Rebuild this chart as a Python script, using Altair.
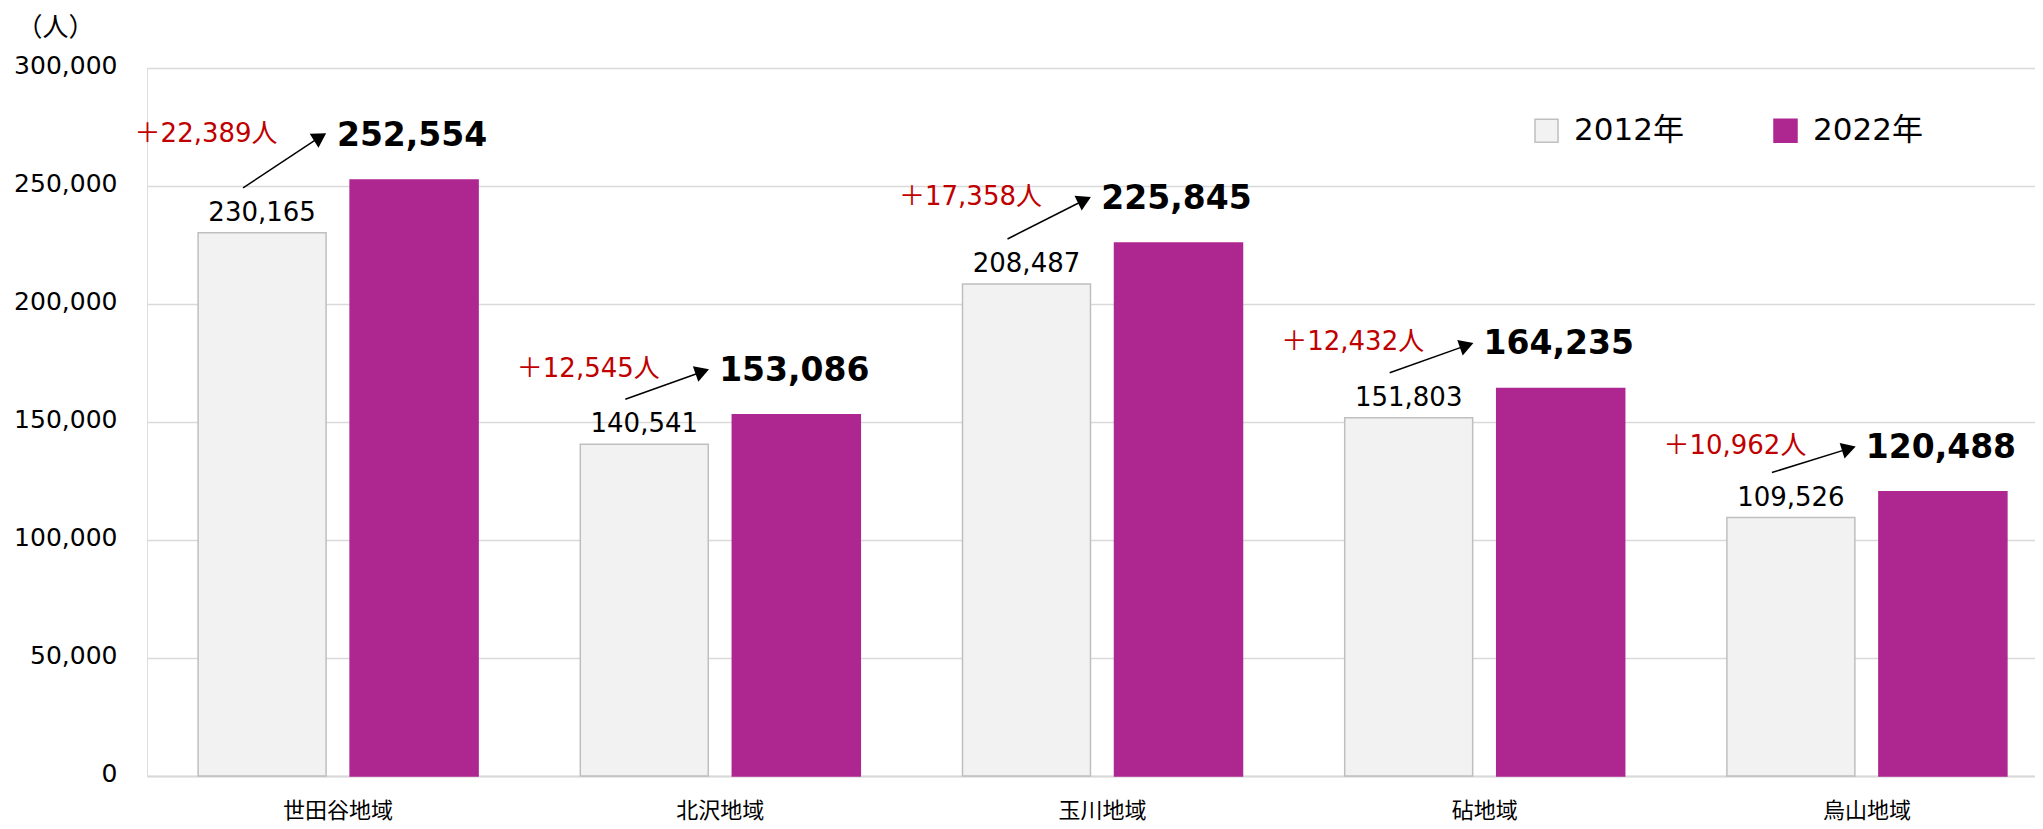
import altair as alt
import pandas as pd
import numpy as np

regions = ["世田谷地域", "北沢地域", "玉川地域", "砧地域", "烏山地域"]
pop_2012 = [230165, 140541, 208487, 151803, 109526]
pop_2022 = [252554, 153086, 225845, 164235, 120488]
increase = [22389, 12545, 17358, 12432, 10962]
years = ["2012年", "2022年"]
y_ticks = [0, 50000, 100000, 150000, 200000, 250000, 300000]

FONT = "DejaVu Sans, Noto Sans CJK JP"
PURPLE = "#ae2790"
LIGHT = "#f2f2f2"
EDGE = "#bfbfbf"
GRID = "#d9d9d9"

W, H = 1888, 708
XRANGE = 1911
PX_PER_UNIT = H / 300000
ARROW_START, ARROW_END = -95, -11

long_df = pd.DataFrame({
    "region": regions * 2,
    "year": [years[0]] * 5 + [years[1]] * 5,
    "pop": pop_2012 + pop_2022,
})
wide_df = pd.DataFrame({
    "region": regions,
    "v2012": pop_2012,
    "v2022": pop_2022,
    "inc": [f"＋{v:,}人" for v in increase],
})
dy_px = (wide_df["v2022"] - wide_df["v2012"]) * PX_PER_UNIT
wide_df["angle"] = 360 - np.degrees(np.arctan2(dy_px, ARROW_END - ARROW_START))

x_enc = alt.X(
    "region:N", sort=regions, title=None,
    scale=alt.Scale(range=[0, XRANGE], paddingInner=0.2674, paddingOuter=0.1337),
    axis=alt.Axis(labelAngle=0, labelFont=FONT, labelFontSize=22, labelColor="#000000",
                  labelPadding=24, ticks=False, domainColor=GRID, domainWidth=2,
                  labelBaseline="top"),
)
y_scale = alt.Scale(domain=[0, 300000], nice=False)

legend_def = alt.Legend(
    title=None, orient="none", legendX=1384, legendY=47, direction="horizontal",
    symbolType="square", symbolSize=529, symbolStrokeWidth=1.5,
    labelFont=FONT, labelFontSize=31, labelColor="#000000", labelOffset=12,
    columnPadding=86, padding=0, symbolOpacity=1,
)

bars = alt.Chart(long_df).mark_bar(strokeWidth=1.5).encode(
    x=x_enc,
    xOffset=alt.XOffset("year:N", sort=years,
                        scale=alt.Scale(range=[0, 280], paddingInner=0.158, paddingOuter=0)),
    y=alt.Y("pop:Q", scale=y_scale, title="（人）",
            axis=alt.Axis(values=y_ticks, format=",d", labelFont=FONT, labelFontSize=25,
                          labelColor="#000000", labelPadding=30, labelOffset=-3,
                          domain=False, ticks=False, gridColor=GRID, gridWidth=1.5,
                          titleAngle=0, titleFont=FONT, titleFontSize=26,
                          titleFontWeight="normal", titleColor="#000000",
                          titleX=-92, titleY=-41, titleAlign="center",
                          titleBaseline="middle")),
    color=alt.Color("year:N", sort=years,
                    scale=alt.Scale(domain=years, range=[LIGHT, PURPLE]), legend=legend_def),
    stroke=alt.Stroke("year:N", sort=years,
                      scale=alt.Scale(domain=years, range=[EDGE, PURPLE]), legend=legend_def),
)

base = alt.Chart(wide_df)

lab2012 = base.mark_text(font=FONT, fontSize=26, color="#000000", dx=-76, dy=-20,
                         baseline="middle").encode(
    x=alt.X("region:N", sort=regions),
    y=alt.Y("v2012:Q", scale=y_scale),
    text=alt.Text("v2012:Q", format=",d"),
)
lab2022 = base.mark_text(font=FONT, fontSize=33, fontWeight="bold", color="#000000",
                         dx=74, dy=-44, baseline="middle").encode(
    x=alt.X("region:N", sort=regions),
    y=alt.Y("v2022:Q", scale=y_scale),
    text=alt.Text("v2022:Q", format=",d"),
)
inc_text = base.mark_text(font=FONT, fontSize=26, color="#c00000", dx=-132, dy=-46,
                          baseline="middle").encode(
    x=alt.X("region:N", sort=regions),
    y=alt.Y("v2022:Q", scale=y_scale),
    text="inc:N",
)
arrows = base.mark_rule(color="#000000", strokeWidth=1.5, xOffset=ARROW_START,
                        x2Offset=ARROW_END - 7, yOffset=-45, y2Offset=-43).encode(
    x=alt.X("region:N", sort=regions),
    x2="region:N",
    y=alt.Y("v2012:Q", scale=y_scale),
    y2="v2022:Q",
)
heads = base.mark_point(shape="triangle-right", filled=True, color="#000000", opacity=1,
                        size=270, xOffset=ARROW_END - 7, yOffset=-43).encode(
    x=alt.X("region:N", sort=regions),
    y=alt.Y("v2022:Q", scale=y_scale),
    angle=alt.Angle("angle:Q", scale=None),
)

chart = alt.layer(bars, lab2012, lab2022, inc_text, arrows, heads).properties(
    width=W, height=H,
    autosize=alt.AutoSizeParams(type="none"),
    padding={"left": 139, "top": 60, "right": 0, "bottom": 45},
).configure_view(stroke=None).configure(font=FONT, background="#ffffff")

chart.save("out.html", embed_options={"renderer": "svg", "actions": False})
